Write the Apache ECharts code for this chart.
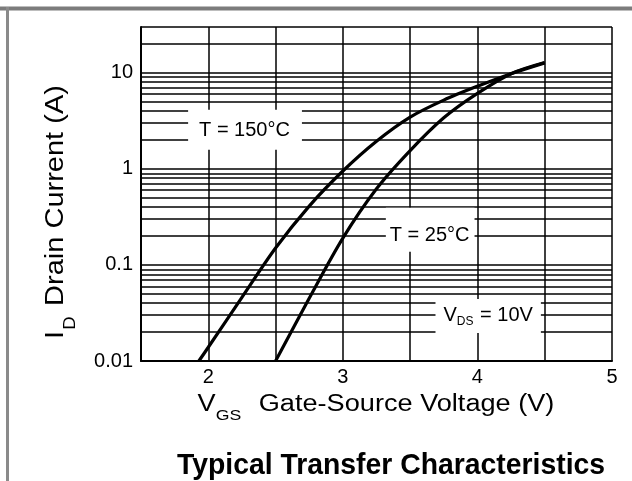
<!DOCTYPE html>
<html><head><meta charset="utf-8">
<script src="https://cdn.jsdelivr.net/npm/echarts@6/dist/echarts.min.js"></script>
<style>html,body{margin:0;padding:0;background:#fff}#c{width:632px;height:481px}</style>
</head><body><div id="c"></div>
<script>
// ---- data ----
const vgs150 = [1.93, 2.0, 2.25, 2.5, 2.75, 3.0, 3.25, 3.5, 3.75, 4.0, 4.25, 4.5];
const id150  = [0.01, 0.0139, 0.046, 0.15, 0.41, 0.95, 1.94, 3.46, 5.2, 7.25, 9.8, 12.7];
const vgs25  = [2.5, 2.75, 3.0, 3.25, 3.5, 3.75, 4.0, 4.25, 4.5];
const id25   = [0.01, 0.045, 0.19, 0.62, 1.55, 3.4, 6.1, 9.8, 12.8];
const xTickLabels = [2, 3, 4, 5];
const yTickLabels = [0.01, 0.1, 1, 10];
const yGridLines = [0.02,0.03,0.04,0.05,0.06,0.07,0.08,0.09,0.1,
                    0.2,0.3,0.4,0.5,0.6,0.7,0.8,0.9,1,
                    2,3,4,5,6,7,8,9,10,20,30];
const noteX = [2.273, 3.649, 4.08];
const noteY = [2.55, 0.232, 0.0294];
const noteText = ['T = 150°C', 'T = 25°C', 'V{s|DS} = 10V'];

// ---- build ----
const FONT = '"Liberation Sans", Arial, sans-serif';
const notePad = [[11,12,9,11],[18,5,6,4],[6,8,8,8]];
const chart = echarts.init(document.getElementById('c'), null, {renderer:'canvas'});
const zip = (xs, ys) => xs.map((x, i) => [x, ys[i]]);

const option = {
  backgroundColor: '#fff',
  animation: false,
  textStyle: { fontFamily: FONT },
  grid: { left: 141, top: 27, width: 471, height: 334 },
  xAxis: {
    type: 'value', min: 1.5, max: 5, interval: 0.5,
    axisLine: { lineStyle: { color: '#000', width: 2 } },
    axisTick: { show: false },
    splitLine: { show: true, lineStyle: { color: '#000', width: 1.5 } },
    axisLabel: {
      color: '#000', fontSize: 20, margin: 6, fontFamily: FONT,
      formatter: v => xTickLabels.includes(v) ? String(v) : ''
    }
  },
  yAxis: {
    type: 'log', logBase: 10, min: 0.01, max: 30,
    axisLine: { show: true, lineStyle: { color: '#000', width: 2 } },
    axisTick: { show: false },
    splitLine: { show: false },
    axisLabel: {
      color: '#000', fontSize: 20, margin: 8, fontFamily: FONT,
      formatter: v => {
        const hit = yTickLabels.find(t => Math.abs(t - v) / t < 1e-6);
        return hit === undefined ? '' : String(hit);
      }
    }
  },
  series: [
    {
      type: 'line', z: 1, silent: true, data: [[1.5, 0.01]],
      showSymbol: false, lineStyle: { width: 0 },
      markLine: {
        silent: true, symbol: 'none', animation: false,
        label: { show: false },
        lineStyle: { color: '#000', width: 1.5, type: 'solid' },
        data: yGridLines.map(v => ({ yAxis: v }))
      }
    },
    {
      name: 'T = 150°C', type: 'line', z: 3, smooth: 0.3, showSymbol: false,
      lineStyle: { color: '#000', width: 3.2 },
      data: zip(vgs150, id150)
    },
    {
      name: 'T = 25°C', type: 'line', z: 3, smooth: 0.3, showSymbol: false,
      lineStyle: { color: '#000', width: 3.2 },
      data: zip(vgs25, id25)
    },
    {
      type: 'scatter', z: 6, symbolSize: 0, silent: true,
      itemStyle: { opacity: 1 },
      data: noteX.map((x, i) => ({
        value: [x, noteY[i]],
        label: { padding: notePad[i] }
      })),
      label: {
        show: true, position: 'inside', opacity: 1,
        formatter: p => noteText[p.dataIndex],
        backgroundColor: '#fff', color: '#000',
        fontSize: 20, lineHeight: 20, fontFamily: FONT,
        rich: {
          s: { fontSize: 12, lineHeight: 12, padding: [14, 1, 0, 0], fontFamily: FONT, color: '#000' }
        }
      }
    }
  ],
  graphic: [
    { type: 'line', silent: true, z: 10,
      shape: { x1: 0, y1: 8.5, x2: 632, y2: 8.5 },
      style: { stroke: '#7c7c7c', lineWidth: 4 } },
    { type: 'line', silent: true, z: 10,
      shape: { x1: 7.5, y1: 7, x2: 7.5, y2: 481 },
      style: { stroke: '#8a8a8a', lineWidth: 3 } },
    { type: 'text', silent: true, z: 10,
      x: 376, y: 393, scaleX: 1.18,
      style: {
        text: 'V{s|GS}  Gate-Source Voltage (V)',
        fontSize: 23, fontFamily: FONT, fill: '#000',
        align: 'center', textAlign: 'center', verticalAlign: 'top', textVerticalAlign: 'top',
        rich: {
          s: { fontSize: 15, lineHeight: 15, padding: [15, 2, 0, 0], fontFamily: FONT, fill: '#000', verticalAlign: 'top' }
        }
      } },
    { type: 'text', silent: true, z: 10,
      x: 44, y: 212, rotation: Math.PI / 2, scaleX: 1.16,
      style: {
        text: 'I{s|D} Drain Current (A)',
        fontSize: 25, fontFamily: FONT, fill: '#000',
        align: 'center', textAlign: 'center', verticalAlign: 'top', textVerticalAlign: 'top',
        rich: {
          s: { fontSize: 16, lineHeight: 16, padding: [19, 2, 0, 1], fontFamily: FONT, fill: '#000', verticalAlign: 'top' }
        }
      } },
    { type: 'text', silent: true, z: 10,
      x: 391, y: 466, scaleX: 0.945,
      style: {
        text: 'Typical Transfer Characteristics',
        fontSize: 30, fontWeight: 'bold', fontFamily: FONT, fill: '#000',
        align: 'center', textAlign: 'center', verticalAlign: 'middle', textVerticalAlign: 'middle'
      } }
  ]
};
chart.setOption(option);
</script>
</body></html>
